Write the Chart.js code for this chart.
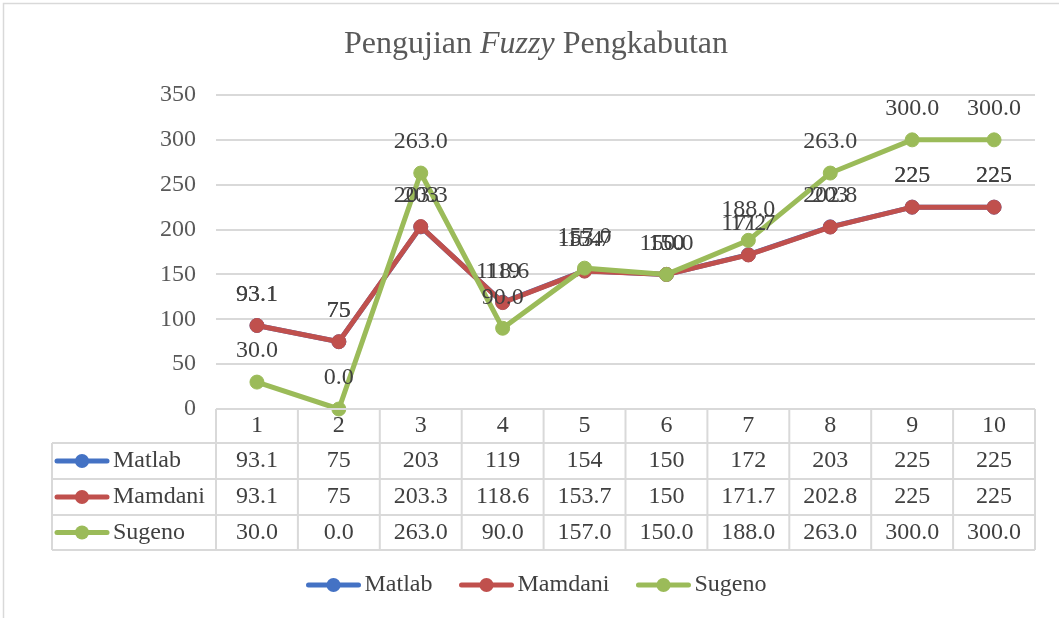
<!DOCTYPE html>
<html>
<head>
<meta charset="utf-8">
<script src="https://cdn.jsdelivr.net/npm/chart.js@4.4.1/dist/chart.umd.min.js"></script>
<style>
  html, body { margin: 0; padding: 0; background: #fff; }
  #wrap { width: 1059px; height: 618px; }
</style>
</head>
<body>
<div id="wrap"><canvas id="myChart"></canvas></div>
<script>
let labels = ['1', '2', '3', '4', '5', '6', '7', '8', '9', '10'];
let matlab = [93.1, 75, 203, 119, 154, 150, 172, 203, 225, 225];
let mamdani = [93.1, 75, 203.3, 118.6, 153.7, 150, 171.7, 202.8, 225, 225];
let sugeno = [30.0, 0.0, 263.0, 90.0, 157.0, 150.0, 188.0, 263.0, 300.0, 300.0];
let names = ['Matlab', 'Mamdani', 'Sugeno'];
let colors = ['#4472C4', '#C0504D', '#9BBB59'];
let yMax = 350;
let yStep = 50;

const serif = "'Liberation Serif', 'Times New Roman', serif";
const textColor = '#404040';
const lineGray = '#d9d9d9';

// Sugeno values are shown with one decimal, the others as typed
function fmt(dsIndex, v) {
  return dsIndex === 2 ? v.toFixed(1) : String(v);
}

function drawKey(ctx, x, y, color) {
  ctx.save();
  ctx.strokeStyle = color;
  ctx.lineWidth = 5;
  ctx.lineCap = 'round';
  ctx.beginPath();
  ctx.moveTo(x + 3, y);
  ctx.lineTo(x + 53, y);
  ctx.stroke();
  ctx.fillStyle = color;
  ctx.beginPath();
  ctx.arc(x + 28, y, 7, 0, Math.PI * 2);
  ctx.fill();
  ctx.restore();
}

let extras = {
  id: 'extras',
  afterDatasetsDraw(chart) {
    let ctx = chart.ctx;
    ctx.save();
    ctx.font = '24px ' + serif;
    ctx.fillStyle = textColor;
    ctx.textAlign = 'center';
    ctx.textBaseline = 'middle';
    chart.data.datasets.forEach((ds, di) => {
      let meta = chart.getDatasetMeta(di);
      meta.data.forEach((pt, i) => {
        ctx.fillText(fmt(di, ds.data[i]), pt.x, pt.y - 31);
      });
    });
    ctx.restore();
  },
  afterDraw(chart) {
    let ctx = chart.ctx;
    let x = chart.scales.x;
    let area = chart.chartArea;
    let n = labels.length;
    let cw = (x.right - x.left) / n;
    let top = area.bottom;
    let rows = [top, top + 34, top + 70, top + 106, top + 141];
    let tableLeft = 52;

    ctx.save();
    // frame
    ctx.strokeStyle = lineGray;
    ctx.lineWidth = 1.5;
    ctx.beginPath();
    ctx.moveTo(3.5, 618);
    ctx.lineTo(3.5, 3.5);
    ctx.lineTo(1059, 3.5);
    ctx.stroke();

    // title
    ctx.fillStyle = '#595959';
    ctx.textBaseline = 'middle';
    ctx.textAlign = 'left';
    let parts = [['Pengujian ', ''], ['Fuzzy', 'italic '], [' Pengkabutan', '']];
    let total = 0;
    parts.forEach(p => { ctx.font = p[1] + '32px ' + serif; total += ctx.measureText(p[0]).width; });
    let tx = 536 - total / 2;
    parts.forEach(p => {
      ctx.font = p[1] + '32px ' + serif;
      ctx.fillText(p[0], tx, 45);
      tx += ctx.measureText(p[0]).width;
    });

    // data table grid
    ctx.strokeStyle = lineGray;
    ctx.lineWidth = 2;
    ctx.beginPath();
    ctx.moveTo(x.left, rows[0]); ctx.lineTo(x.right, rows[0]);
    for (let r = 1; r < rows.length; r++) {
      ctx.moveTo(tableLeft, rows[r]); ctx.lineTo(x.right, rows[r]);
    }
    for (let i = 0; i <= n; i++) {
      let vx = x.left + i * cw;
      ctx.moveTo(vx, rows[0]); ctx.lineTo(vx, rows[4]);
    }
    ctx.moveTo(tableLeft, rows[1]); ctx.lineTo(tableLeft, rows[4]);
    ctx.stroke();

    // header and values
    ctx.font = '24px ' + serif;
    ctx.fillStyle = textColor;
    ctx.textAlign = 'center';
    labels.forEach((l, i) => {
      ctx.fillText(l, x.getPixelForValue(i), (rows[0] + rows[1]) / 2);
    });
    chart.data.datasets.forEach((ds, di) => {
      let cy = (rows[di + 1] + rows[di + 2]) / 2;
      ds.data.forEach((v, i) => {
        ctx.fillText(fmt(di, v), x.getPixelForValue(i), cy);
      });
      drawKey(ctx, tableLeft + 2, cy, colors[di]);
      ctx.textAlign = 'left';
      ctx.fillText(names[di], tableLeft + 61, cy);
      ctx.textAlign = 'center';
    });

    // legend
    ctx.textAlign = 'left';
    let gap = 26, keyW = 56, pad = 3;
    let widths = names.map(s => ctx.measureText(s).width);
    let lw = widths.reduce((a, b) => a + b, 0) + names.length * (keyW + pad) + gap * (names.length - 1);
    let lx = 536 - lw / 2;
    names.forEach((s, i) => {
      drawKey(ctx, lx, 585, colors[i]);
      ctx.fillText(s, lx + keyW + pad, 585);
      lx += keyW + pad + widths[i] + gap;
    });
    ctx.restore();
  }
};

let myChart = document.getElementById('myChart').getContext('2d');
let chart = new Chart(myChart, {
  type: 'line',
  data: {
    labels: labels,
    datasets: [
      { label: names[0], data: matlab, order: 2 },
      { label: names[1], data: mamdani, order: 1 },
      { label: names[2], data: sugeno, order: 0 }
    ].map((ds, i) => Object.assign(ds, {
      borderColor: colors[i],
      backgroundColor: colors[i],
      pointBackgroundColor: colors[i],
      pointBorderColor: colors[i],
      borderWidth: 5,
      pointRadius: 7,
      pointBorderWidth: 1,
      tension: 0,
      clip: false
    }))
  },
  options: {
    responsive: true,
    maintainAspectRatio: false,
    animation: false,
    layout: { padding: { top: 95, right: 24, bottom: 68, left: 0 } },
    plugins: {
      legend: { display: false },
      title: { display: false },
      tooltip: { enabled: false }
    },
    scales: {
      x: {
        offset: true,
        grid: { display: false },
        border: { display: false },
        ticks: { display: false },
        afterFit: s => { s.height = 141; }
      },
      y: {
        min: 0,
        max: yMax,
        ticks: {
          stepSize: yStep,
          padding: 20,
          color: '#595959',
          font: { family: serif, size: 24 }
        },
        grid: { color: lineGray, lineWidth: 2, drawTicks: false },
        border: { display: false },
        afterFit: s => { s.width = 216; }
      }
    }
  },
  plugins: [extras]
});
</script>
</body>
</html>
